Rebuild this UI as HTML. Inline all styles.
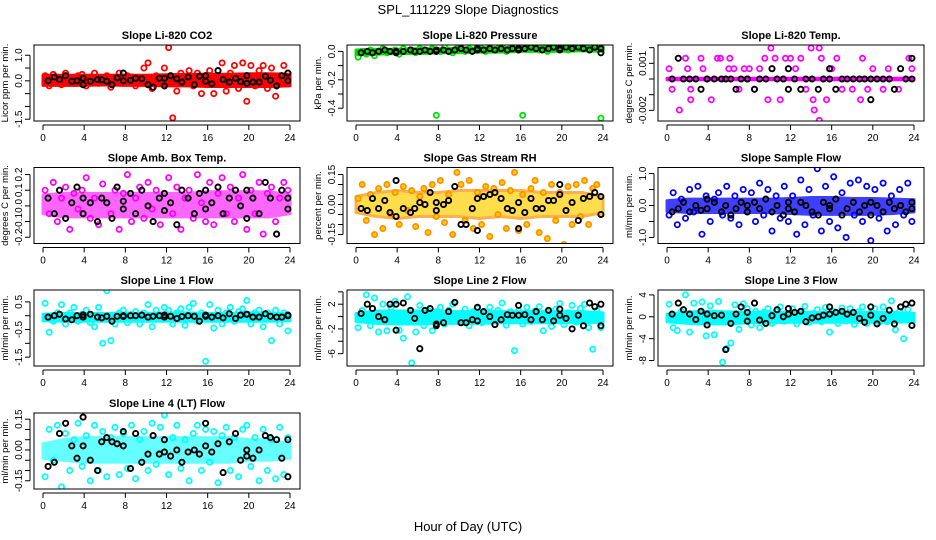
<!DOCTYPE html>
<html><head><meta charset="utf-8"><style>
html,body{margin:0;padding:0;background:#fff;}
svg{display:block;font-family:"Liberation Sans",sans-serif;}
</style></head><body>
<svg id="chart" width="936" height="540" viewBox="0 0 936 540" xmlns="http://www.w3.org/2000/svg">
<text x="468" y="14" text-anchor="middle" font-size="13">SPL_111229  Slope Diagnostics</text>
<text x="468" y="531" text-anchor="middle" font-size="13">Hour of Day (UTC)</text>
</svg>
<script>
const blackTimes=[0.5,1.1,1.6,2.2,2.8,3.3,3.9,3.9,4.6,5.3,5.7,6.2,6.7,7.2,7.8,7.8,8.5,9,9.6,10.2,10.7,11.3,11.8,11.8,12.4,13,13.5,14.1,14.7,15.2,15.8,15.8,16.4,17,17.5,18.1,18.7,19.2,19.8,19.8,20.4,21,21.6,22.1,22.7,23.2,23.8,23.8];
const bandHours=[0,2,4,6,8,10,12,14,16,18,20,22,24];
const xTicks=[0,4,8,12,16,20,24];

const co2Vals=[0.2,-0.2,0.25,0.1,-0.15,0.3,0.05,-0.1,0.2,0.25,-0.2,0.15,0.3,-0.1,0.1,0.2,-0.25,0.1,0.3,-0.1,0.2,0.15,-0.2,0.1,0.5,0.7,-0.3,0.2,-0.1,0.5,1.3,-1.45,-0.4,0.3,0.1,0.4,-0.2,0.3,-0.5,0.2,0.4,-0.5,0.1,0.7,-0.4,0.3,0.6,-0.3,0.7,-0.8,0.6,-0.2,0.4,0.6,-0.3,0.5,-0.6,0.2,0.6,0.3];
const co2Black=[0,0.15,0.05,0.2,-0.02,0,0.1,-0.15,-0.02,0.05,0.04,-0.02,-0.15,0.12,0.3,0,0.02,0.1,0.08,-0.15,-0.25,0.1,-0.2,0.1,0.2,0.08,-0.05,0.15,-0.15,0.18,0.2,-0.02,-0.12,0.4,0.05,-0.05,0.1,-0.03,0.2,-0.1,-0.05,-0.05,0.18,0.02,-0.2,0.2,0.3,0];
const co2BandLo=[-0.18,-0.18,-0.18,-0.16,-0.18,-0.18,-0.2,-0.2,-0.22,-0.22,-0.22,-0.22,-0.2];
const co2BandHi=[0.22,0.22,0.22,0.22,0.22,0.22,0.24,0.25,0.26,0.26,0.28,0.28,0.25];

const presVals=[-0.04,0.0,-0.02,0.01,-0.03,0.0,0.02,-0.01,0.0,0.01,-0.02,0.02,0.0,0.01,-0.01,0.02,0.01,0.0,0.02,-0.45,0.0,0.03,0.01,-0.01,0.02,0.03,0.0,0.02,0.01,0.03,0.02,0.0,0.03,0.01,0.02,0.04,0.0,0.02,0.03,0.01,-0.45,0.03,0.02,0.04,0.01,0.03,0.0,0.04,0.02,0.05,0.03,0.01,0.04,0.05,0.02,0.06,0.03,0.05,0.02,-0.47];
const presBlack=[-0.01,0,-0.01,0,0.01,0,-0.01,0,0,0.01,0,0,0.01,0,0.01,0,0.01,0,0.01,0.02,0.01,0,0.02,0.01,0.01,0.02,0.01,0.02,0.01,0.02,0.02,0.01,0.02,0.03,0.02,0.01,0.02,0.03,0.02,0.01,0.03,0.02,0.03,0.02,0.01,0.03,0.02,-0.01];
const presBandLo=[-0.025,-0.02,-0.015,-0.015,-0.01,-0.01,-0.005,-0.005,0,0,0,0.005,0];
const presBandHi=[0.01,0.015,0.015,0.02,0.02,0.02,0.025,0.025,0.03,0.03,0.035,0.035,0.035];

const tempTimes=[0.2,0.5,1.2,1.8,2.0,2.3,2.3,3.3,3.5,4.3,4.9,5.2,6.0,6.1,6.5,7.0,7.5,8.0,8.5,9.0,9.5,9.8,10.1,10.5,11.0,11.5,12.0,12.5,13.0,13.5,14.0,14.2,14.3,14.8,14.8,15.0,15.5,16.0,16.5,17.0,18.0,18.8,19.0,19.5,20.0,21.0,21.5,22.5,23.5,23.8];
const tempVals=[0.00066,-0.00066,-0.00198,0.00132,0.00066,-0.00066,-0.00132,0.00132,0.00066,-0.00132,0.00132,0.00132,0.00066,0.00132,0.00066,-0.00066,0.00066,0.00066,-0.00066,0.00066,0.00132,-0.00132,0.00198,0.00132,-0.00132,0.00132,0.00132,0.00066,0.00132,-0.00066,0.00198,-0.00132,-0.00198,0.00198,-0.00264,0.00132,-0.00132,0.00066,0.00132,-0.00066,-0.00066,-0.00132,0.00132,-0.00066,0.00066,-0.00066,0.00066,-0.00066,0.00132,0.00066];
const tempBlack=[0,0.00132,0,0,0,-0.00066,0,0,0,0,0,0,-0.00066,0,0,0,-0.00066,0,0,0.00066,0,0,-0.00066,0.00066,0,-0.00066,0,0,-0.00066,0,0.00066,0,-0.00066,0,0,0,0,0,-0.00132,0,0,0,0,-0.00066,0.00066,0,0,0.00132];
const tempBandLo=[-0.00005,-0.00005,-0.00005,-0.00005,-0.00005,-0.00005,-0.00005,-0.00005,-0.00005,-0.00005,-0.00005,-0.00005,-0.00005];
const tempBandHi=[0.00005,0.00005,0.00005,0.00005,0.00005,0.00005,0.00005,0.00005,0.00005,0.00005,0.00005,0.00005,0.00005];

const ambVals=[0.1,-0.05,0.15,-0.1,0.05,0.12,-0.15,0.08,-0.02,0.1,0.18,-0.08,0.05,-0.12,0.14,0.02,-0.05,0.1,-0.15,0.08,0.2,-0.1,0.05,0.12,-0.08,0.15,-0.02,0.1,-0.12,0.08,0.18,-0.05,0.12,-0.15,0.05,0.1,-0.08,0.2,0.02,-0.1,0.15,-0.12,0.08,0.18,-0.05,0.12,-0.1,0.05,0.2,-0.15,0.1,-0.05,0.15,-0.18,0.08,0.12,-0.1,0.05,0.15,0.1];
const ambBlack=[0.05,-0.05,0.1,-0.08,0.02,0.12,0.05,-0.05,0.02,-0.1,0.05,0.02,-0.08,0.12,0.03,-0.02,0.08,-0.05,0.1,0.0,-0.1,0.05,0.08,-0.03,0.02,-0.12,0.1,0.05,-0.05,0.08,-0.02,0.1,0.02,0.12,-0.05,0.05,0.1,0.0,-0.08,0.1,0.05,-0.05,0.15,0.05,-0.18,0.1,-0.02,0.05];
const ambBandLo=[-0.05,-0.07,-0.07,-0.07,-0.07,-0.07,-0.07,-0.07,-0.07,-0.07,-0.07,-0.07,-0.05];
const ambBandHi=[0.07,0.08,0.08,0.08,0.08,0.08,0.08,0.08,0.09,0.09,0.09,0.09,0.07];

const rhVals=[0.03,0.1,-0.08,0.05,-0.15,0.08,-0.12,0.1,-0.05,0.06,-0.1,0.09,-0.03,0.07,-0.11,0.04,0.08,-0.14,0.1,-0.06,0.12,-0.09,0.05,-0.15,0.16,0.1,-0.08,0.12,-0.12,0.06,-0.1,0.09,-0.16,0.08,-0.05,0.11,-0.12,0.07,0.16,-0.13,0.05,-0.1,0.08,0.12,-0.14,0.06,-0.17,0.1,-0.08,0.06,-0.2,0.09,-0.1,0.1,-0.06,0.12,-0.1,0.08,0.1,-0.05];
const rhBlack=[-0.02,-0.03,0.03,-0.02,0.02,-0.04,0.12,-0.06,-0.02,-0.04,-0.02,0.01,0.0,0.06,0.01,-0.03,0.0,0.02,0.09,-0.1,-0.1,-0.02,-0.13,0.03,0.04,0.05,0.06,0.03,-0.02,-0.03,0.01,-0.12,-0.04,0.03,-0.02,-0.02,0.02,0.02,0.1,0.05,-0.03,0.01,-0.08,0.03,0.04,0.06,0.04,-0.05];
const rhBandLo=[-0.04,-0.06,-0.07,-0.06,-0.06,-0.06,-0.07,-0.06,-0.07,-0.06,-0.06,-0.06,-0.04];
const rhBandHi=[0.04,0.06,0.07,0.06,0.06,0.07,0.07,0.07,0.07,0.06,0.06,0.06,0.04];

const flowVals=[-0.3,0.4,-0.6,0.2,-0.4,0.5,-0.2,0.6,-0.9,0.3,-0.5,0.2,0.4,-0.3,0.6,-0.4,0.3,-0.6,0.5,-0.2,0.4,-0.5,0.7,-0.3,0.5,-0.8,0.3,-0.4,0.6,-0.5,0.3,-0.9,0.8,-0.6,0.5,-0.3,1.15,-0.8,0.6,-0.5,0.9,-0.7,0.4,-1.0,0.7,-0.3,0.8,-0.5,0.6,-1.1,0.5,-0.4,0.7,-0.8,0.3,-0.6,0.5,-0.3,0.7,-0.5];
const flowBlack=[-0.2,-0.1,0.1,-0.2,0,-0.15,0.2,-0.1,0.1,-0.2,0,-0.3,-0.1,0.1,-0.2,0,0.1,-0.1,0.2,-0.2,0,-0.3,0.1,-0.1,-0.2,0.1,0,-0.2,-0.3,0.1,-0.1,0,0.2,-0.3,-0.1,0.1,-0.2,0,-0.3,0.1,0,-0.2,0.1,-0.1,0,-0.2,0.1,-0.1];
const flowBandLo=[-0.18,-0.22,-0.22,-0.22,-0.22,-0.22,-0.25,-0.28,-0.28,-0.28,-0.28,-0.25,-0.2];
const flowBandHi=[0.15,0.2,0.2,0.2,0.2,0.2,0.22,0.25,0.25,0.22,0.22,0.2,0.18];

const l1Vals=[0.45,-0.6,-0.2,0.1,0.4,-0.3,0.1,0.3,-0.2,0.05,0.2,-0.25,-0.4,0.3,-1.0,0.9,-0.9,-0.3,0.1,0.2,-0.25,0.05,0.15,-0.3,0.1,0.4,-0.4,0.2,-0.1,0.3,0.2,-0.3,0.1,0.25,-0.35,0.3,0.45,-0.2,0.1,-1.65,0.4,-0.45,0.2,-0.3,0.1,0.3,-0.2,0.15,0.25,0.55,-0.3,0.1,0.2,-0.4,0.1,-0.9,0.2,-0.3,0.1,-0.55];
const l1Black=[-0.05,0,0.05,-0.12,-0.15,0,0.03,-0.05,0.05,-0.05,-0.08,-0.02,-0.2,-0.02,-0.03,0,0,0,0.02,-0.05,-0.02,0,-0.05,0.02,-0.02,-0.1,-0.03,0,-0.02,-0.2,-0.02,0.02,-0.05,0,-0.08,0.07,-0.1,0.02,0.05,0.05,-0.05,-0.05,0.07,-0.02,-0.05,-0.05,0,0.02];
const l1BandLo=[-0.18,-0.2,-0.2,-0.2,-0.2,-0.2,-0.2,-0.2,-0.2,-0.2,-0.2,-0.2,-0.18];
const l1BandHi=[0.05,0.08,0.08,0.08,0.1,0.08,0.1,0.1,0.08,0.08,0.1,0.1,0.06];

const l2Vals=[-1.8,1,3.5,-1.5,3,-2.5,2,-2.3,1.5,2.5,-2.2,-3.5,3.2,-7.5,-2.5,1.8,-1.5,1,-2.3,0.8,1.5,-1.2,1,2,-0.8,0.5,1.2,-1.5,0.8,1.3,-1,0.5,1.5,-0.6,1,2.2,-1.4,0.8,-5.5,1,-1.2,1.5,-0.8,0.9,1.6,-2.3,0.8,-1.6,1.2,2.1,-1.3,0.6,1.8,-0.9,1.3,2,-1.8,-5.3,1,-1.8];
const l2Black=[0.5,2,1.3,0,-0.5,2,2,-2.2,2.2,1,-0.3,-5.2,1,1.3,-1.5,-1.2,-1,0.8,2.3,-1,-1,-0.5,1.5,-0.7,0.8,0,-1.3,-0.5,0.3,0.2,1.8,0.2,0.3,-0.5,0.8,-0.5,1,-0.7,1.2,0.2,-0.3,-2,0.2,-1.5,2.2,1.6,-1.5,2];
const l2BandLo=[-0.8,-1.1,-1.2,-1.2,-1.1,-1.1,-1.1,-1.0,-1.0,-1.0,-1.0,-1.0,-0.9];
const l2BandHi=[0.5,0.9,0.9,0.9,0.8,0.8,0.8,0.8,0.8,0.8,0.8,0.8,0.6];

const l3Vals=[2.3,-2,-2.5,1,4,-2.8,2.5,-1,2.7,-3.5,2,-3.3,2.8,-8.3,-5.8,-4.8,2.2,-2.3,2.4,1.5,-1.5,1,-2,0.8,1.5,-1.2,1,1.8,-0.8,0.5,1.5,-1.3,0.8,1.9,-1,0.6,1.3,-0.9,1.7,-2.8,1,-1.2,1.6,-0.8,1.5,-1.4,0.9,1.8,-1.2,0.7,1.5,-1,1.8,-0.9,2.9,-2.4,1,-4,1.3,-1.5];
const l3Black=[0.5,2.5,1.3,0.5,-0.5,1,0.5,-1.5,0.2,0.3,-6,-1.2,0.5,1.8,-0.8,0.8,2.5,-0.6,-1.2,0.2,1.3,0,1.5,0.5,0.8,1,-0.9,-0.2,0,0.3,0.5,1.8,0.8,1,0.5,0.8,-0.3,-1,1.8,0.3,-1.3,-0.3,1.2,-1.3,1.8,2.3,-1.6,2.5];
const l3BandLo=[-0.9,-1.2,-1.3,-1.3,-1.1,-1.1,-1.0,-1.0,-1.0,-1.0,-1.0,-1.0,-0.9];
const l3BandHi=[0.5,0.9,1.0,0.9,0.8,0.8,0.8,0.8,0.8,0.8,0.8,0.8,0.6];

const l4Vals=[-0.13,0.1,-0.05,0.12,-0.18,0.08,-0.1,0.05,0.13,-0.08,0.07,-0.15,0.12,-0.1,0.09,-0.13,0.06,0.11,-0.12,0.08,-0.09,0.12,-0.14,0.05,0.09,-0.1,0.13,-0.07,0.11,0.17,-0.12,0.06,0.12,-0.09,0.05,-0.15,0.08,0.12,-0.1,0.1,-0.06,0.09,-0.16,0.07,0.11,-0.1,0.06,-0.13,0.1,0.12,-0.08,0.06,-0.15,0.1,-0.1,0.05,-0.14,0.11,-0.12,0.06];
const l4Black=[-0.08,-0.06,0.08,0.13,0.02,-0.04,0.02,0.16,-0.05,-0.1,0.04,0.06,0.04,0.03,0.02,0.09,-0.09,0.08,-0.06,-0.02,0.07,-0.02,0.05,-0.01,-0.03,0.0,-0.06,-0.01,0.0,-0.02,0.13,0.02,-0.01,0.03,-0.11,0.04,0.08,-0.05,0.0,-0.03,-0.04,0.0,0.07,0.06,0.05,-0.04,0.05,-0.13];
const l4BandLo=[-0.04,-0.05,-0.06,-0.06,-0.06,-0.06,-0.06,-0.06,-0.06,-0.06,-0.05,-0.05,-0.04];
const l4BandHi=[0.03,0.05,0.06,0.06,0.06,0.06,0.06,0.06,0.06,0.06,0.05,0.05,0.03];

const NS='http://www.w3.org/2000/svg';
const svg=document.getElementById('chart');
function mk(tag,attrs,parent){const e=document.createElementNS(NS,tag);for(const k in attrs)e.setAttribute(k,attrs[k]);(parent||svg).appendChild(e);return e;}
const colLeft=[34,347,658],rowTop=[45,167.5,290,413],W=266,H=76;
const panels=[
 {key:'co2',title:'Slope Li-820 CO2',ylab:'Licor ppm per min.',col:0,row:0,ymin:-1.57,ymax:1.4,ticks:[-1.5,-1,-0.5,0,0.5,1],labels:[[-1.5,'-1.5'],[0,'0.0'],[1,'1.0']],color:'#ff0000',op:1,vals:co2Vals,black:co2Black,lo:co2BandLo,hi:co2BandHi},
 {key:'pressure',title:'Slope Li-820 Pressure',ylab:'kPa per min.',col:1,row:0,ymin:-0.49,ymax:0.045,ticks:[-0.4,-0.3,-0.2,-0.1,0],labels:[[-0.4,'-0.4'],[-0.2,'-0.2'],[0,'0.0']],color:'#00e000',op:1,vals:presVals,black:presBlack,lo:presBandLo,hi:presBandHi},
 {key:'temp',title:'Slope Li-820 Temp.',ylab:'degrees C per min.',col:2,row:0,ymin:-0.00268,ymax:0.00217,ticks:[-0.002,-0.001,0,0.001,0.002],labels:[[-0.002,'-0.002'],[0.001,'0.001']],color:'#ff00ff',op:1,vals:tempVals,times:tempTimes,black:tempBlack,lo:tempBandLo,hi:tempBandHi},
 {key:'amb-temp',title:'Slope Amb. Box Temp.',ylab:'degrees C per min.',col:0,row:1,ymin:-0.24,ymax:0.245,ticks:[-0.2,-0.1,0,0.1,0.2],labels:[[-0.2,'-0.2'],[-0.1,'-0.1'],[0,'0.0'],[0.1,'0.1'],[0.2,'0.2']],color:'#ff00ff',op:0.6,vals:ambVals,black:ambBlack,lo:ambBandLo,hi:ambBandHi},
 {key:'rh',title:'Slope Gas Stream RH',ylab:'percent per min.',col:1,row:1,ymin:-0.195,ymax:0.185,ticks:[-0.15,-0.1,-0.05,0,0.05,0.1,0.15],labels:[[-0.15,'-0.15'],[0,'0.00'],[0.15,'0.15']],color:'#ff9000',fill:'#ffd000',op:0.7,vals:rhVals,black:rhBlack,lo:rhBandLo,hi:rhBandHi},
 {key:'sample-flow',title:'Slope Sample Flow',ylab:'ml/min per min.',col:2,row:1,ymin:-1.19,ymax:1.19,ticks:[-1,-0.5,0,0.5,1],labels:[[-1,'-1.0'],[0,'0.0'],[1,'1.0']],color:'#0000ff',op:0.75,vals:flowVals,black:flowBlack,lo:flowBandLo,hi:flowBandHi},
 {key:'line1',title:'Slope Line 1 Flow',ylab:'ml/min per min.',col:0,row:2,ymin:-1.82,ymax:0.93,ticks:[-1.5,-1,-0.5,0,0.5],labels:[[-1.5,'-1.5'],[-0.5,'-0.5'],[0.5,'0.5']],color:'#00ffff',op:1,vals:l1Vals,black:l1Black,lo:l1BandLo,hi:l1BandHi},
 {key:'line2',title:'Slope Line 2 Flow',ylab:'ml/min per min.',col:1,row:2,ymin:-8,ymax:4.3,ticks:[-6,-4,-2,0,2,4],labels:[[-6,'-6'],[-2,'-2'],[2,'2']],color:'#00ffff',op:1,vals:l2Vals,black:l2Black,lo:l2BandLo,hi:l2BandHi},
 {key:'line3',title:'Slope Line 3 Flow',ylab:'ml/min per min.',col:2,row:2,ymin:-9,ymax:4.9,ticks:[-8,-4,0,4],labels:[[-8,'-8'],[-4,'-4'],[0,'0'],[4,'4']],color:'#00ffff',op:1,vals:l3Vals,black:l3Black,lo:l3BandLo,hi:l3BandHi},
 {key:'line4',title:'Slope Line 4 (LT) Flow',ylab:'ml/min per min.',col:0,row:3,ymin:-0.19,ymax:0.18,ticks:[-0.15,-0.1,-0.05,0,0.05,0.1,0.15],labels:[[-0.15,'-0.15'],[0,'0.00'],[0.15,'0.15']],color:'#00ffff',op:0.6,vals:l4Vals,black:l4Black,lo:l4BandLo,hi:l4BandHi}
];
panels.forEach(p=>{
 const L=colLeft[p.col],T=rowTop[p.row];
 const sx=h=>L+9+h/24*(W-19);
 const sy=v=>T+H-(v-p.ymin)/(p.ymax-p.ymin)*H;
 const g=mk('g',{});
 
 
 const cp=mk('clipPath',{id:'clip-'+p.key},g);
 mk('rect',{x:L,y:T,width:W,height:H},cp);
 const t=mk('text',{x:L+W/2,y:T-6,'text-anchor':'middle','font-size':'11','font-weight':'bold'},g);
 t.textContent=p.title;
 
 
 const yl=mk('text',{transform:'translate('+(L-26)+','+(T+H/2)+') rotate(-90)','text-anchor':'middle','font-size':'9.5'},g);
 yl.textContent=p.ylab;
 
 
 const plot=mk('g',{'clip-path':'url(#clip-'+p.key+')'},g);
 
 
 let d='';
 bandHours.forEach((h,i)=>{d+=(i?'L':'M')+sx(h).toFixed(1)+' '+sy(p.hi[i]).toFixed(1);});
 for(let i=bandHours.length-1;i>=0;i--)d+='L'+sx(bandHours[i]).toFixed(1)+' '+sy(p.lo[i]).toFixed(1);
 const band=mk('path',{d:d+'Z',fill:p.fill||p.color,stroke:p.color,'stroke-width':'3','stroke-linejoin':'round',opacity:p.op},plot);
 
 
 p.vals.forEach((v,i)=>{
  const h=p.times?p.times[i]:0.2+0.4*i;
  const c=mk('circle',{cx:sx(h).toFixed(1),cy:sy(v).toFixed(1),r:'2.6',fill:p.fill||'none',stroke:p.color,'stroke-width':'1.8'},plot);
  
  
 });
 const n=Math.min(blackTimes.length,p.black.length);
 for(let i=0;i<n;i++){
  const c=mk('circle',{cx:sx(blackTimes[i]).toFixed(1),cy:sy(p.black[i]).toFixed(1),r:'2.6',fill:'none',stroke:'#000','stroke-width':'1.9'},plot);
  
  
 }
 const box=mk('rect',{x:L,y:T,width:W,height:H,fill:'none',stroke:'#000','stroke-width':'1'},g);
 
 
 const xa=mk('g',{},g);
 
 
 mk('line',{x1:sx(0),x2:sx(24),y1:T+H+4,y2:T+H+4,stroke:'#000'},xa);
 xTicks.forEach(h=>{
  mk('line',{x1:sx(h),x2:sx(h),y1:T+H+4,y2:T+H+9,stroke:'#000'},xa);
  const tl=mk('text',{x:sx(h),y:T+H+20,'text-anchor':'middle','font-size':'10'},xa);
  tl.textContent=h;
  
  
 });
 const ya=mk('g',{},g);
 
 
 const tmin=Math.min(...p.ticks),tmax=Math.max(...p.ticks);
 mk('line',{x1:L-4,x2:L-4,y1:sy(tmin),y2:sy(tmax),stroke:'#000'},ya);
 p.ticks.forEach(v=>{mk('line',{x1:L-9,x2:L-4,y1:sy(v),y2:sy(v),stroke:'#000'},ya);});
 p.labels.forEach(([v,s])=>{
  const tl=mk('text',{transform:'translate('+(L-12)+','+sy(v)+') rotate(-90)','text-anchor':'middle','font-size':'10'},ya);
  tl.textContent=s;
  
  
 });
});
</script>
</body></html>
